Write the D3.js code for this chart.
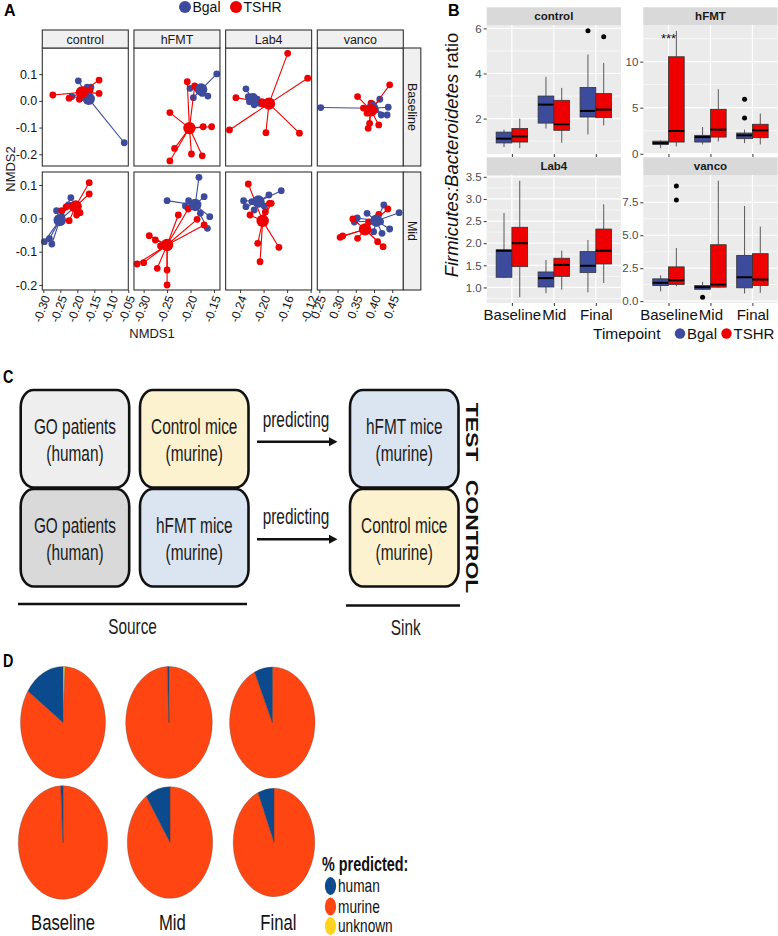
<!DOCTYPE html>
<html><head><meta charset="utf-8">
<script src="https://cdn.jsdelivr.net/npm/d3@7/dist/d3.min.js"></script>
<style>
html,body{margin:0;padding:0;background:#fff;}
svg{display:block;}
text{font-family:"Liberation Sans",Arial,Helvetica,sans-serif;}
</style></head><body>
<svg id="fig" width="778" height="936" viewBox="0 0 778 936"></svg>
<script>
// ================= Panel A data (NMDS) =================
const nmdsTreatments = ["control","hFMT","Lab4","vanco"];
const nmdsTimepoints = ["Baseline","Mid"];
const nmdsGroups = ["Bgal","TSHR"];
const nmdsXTicks = [[-0.30,-0.25,-0.20,-0.15,-0.10,-0.05],[-0.30,-0.25,-0.20,-0.15],[-0.24,-0.20,-0.16,-0.12],[0.25,0.30,0.35,0.40,0.45]];
const nmdsXDomains = [[-0.303,-0.05],[-0.3206,-0.1372],[-0.2645,-0.1183],[0.2445,0.4804]];
const nmdsYTicks = [0.1,0.0,-0.1,-0.2];
const nmdsYDomains = [[-0.244,0.198],[-0.215,0.139]];

const ctrlBaseBgal = [[-0.197,0.075],[-0.171,0.051],[-0.160,0.051],[-0.216,0.016],[-0.192,0.010],[-0.062,-0.157]];
const ctrlBaseTSHR = [[-0.272,0.022],[-0.224,0.010],[-0.194,0.006],[-0.136,0.078],[-0.136,0.028],[-0.163,0.038],[-0.180,0.041]];
const hfmtBaseBgal = [[-0.144,0.101],[-0.201,0.047],[-0.194,0.012],[-0.163,0.018],[-0.175,0.028],[-0.187,0.048]];
const hfmtBaseTSHR = [[-0.207,0.072],[-0.191,0.056],[-0.244,-0.044],[-0.173,-0.097],[-0.155,-0.097],[-0.234,-0.178],[-0.244,-0.225],[-0.198,-0.199],[-0.175,-0.206]];
const lab4BaseBgal = [[-0.230,0.045],[-0.226,0.016],[-0.224,-0.003],[-0.216,-0.015],[-0.207,-0.009],[-0.211,0.006]];
const lab4BaseTSHR = [[-0.159,0.178],[-0.125,0.085],[-0.247,0.012],[-0.258,-0.109],[-0.196,-0.119],[-0.139,-0.121],[-0.203,-0.003],[-0.189,-0.004],[-0.202,-0.012]];
const vancoBaseBgal = [[0.254,-0.025],[0.416,0.006],[0.439,-0.024],[0.420,-0.053],[0.436,-0.053],[0.404,-0.034],[0.396,-0.012]];
const vancoBaseTSHR = [[0.443,0.060],[0.355,0.016],[0.392,-0.009],[0.381,-0.046],[0.388,-0.084],[0.384,-0.103],[0.413,-0.090],[0.399,-0.034],[0.371,-0.027]];
const ctrlMidBgal = [[-0.297,-0.070],[-0.282,-0.061],[-0.275,-0.077],[-0.261,0.023],[-0.219,0.062],[-0.226,0.040],[-0.246,0.005],[-0.207,0.034]];
const ctrlMidTSHR = [[-0.165,0.107],[-0.165,0.073],[-0.192,0.017],[-0.202,0.010],[-0.224,-0.007],[-0.246,0.023],[-0.213,0.031],[-0.233,0.034]];
const hfmtMidBgal = [[-0.182,0.123],[-0.171,0.065],[-0.159,0.005],[-0.164,-0.030],[-0.250,0.053],[-0.204,0.053],[-0.211,0.037],[-0.179,0.015]];
const hfmtMidTSHR = [[-0.314,-0.137],[-0.300,-0.133],[-0.288,-0.052],[-0.275,-0.065],[-0.271,-0.150],[-0.250,-0.155],[-0.250,-0.200],[-0.226,0.010],[-0.205,0.028],[-0.186,-0.003],[-0.171,-0.020],[-0.264,-0.083]];
const lab4MidBgal = [[-0.170,0.083],[-0.234,0.053],[-0.230,0.035],[-0.216,0.025],[-0.209,0.050],[-0.191,0.070],[-0.220,0.050],[-0.199,0.037]];
const lab4MidTSHR = [[-0.226,0.103],[-0.223,0.010],[-0.190,0.045],[-0.210,-0.075],[-0.206,-0.130],[-0.174,-0.087],[-0.201,0.001],[-0.187,0.045],[-0.197,0.019]];
const vancoMidBgal = [[0.469,0.017],[0.427,0.040],[0.381,0.015],[0.346,-0.011],[0.399,-0.040],[0.422,-0.045],[0.443,-0.032],[0.418,-0.010],[0.354,0.001]];
const vancoMidTSHR = [[0.307,-0.057],[0.314,-0.053],[0.355,-0.060],[0.342,-0.002],[0.413,0.012],[0.438,0.028],[0.410,-0.070],[0.425,-0.085],[0.385,-0.011],[0.368,-0.032]];

// ================= Panel B data (boxplots: [lowWhisker, Q1, median, Q3, highWhisker]) =================
const boxFacets = ["control","hFMT","Lab4","vanco"];
const boxTimepoints = ["Baseline","Mid","Final"];
const boxControlBgal = [[0.74,0.92,1.11,1.40,1.51],[1.56,1.80,2.62,3.00,3.85],[1.30,2.07,2.34,3.38,4.84]];
const boxControlTSHR = [[0.69,0.96,1.21,1.56,2.00],[0.93,1.48,1.75,2.81,3.36],[1.70,2.04,2.40,3.11,4.47]];
const boxHfmtBgal = [[0.61,1.01,1.16,1.37,1.45],[1.01,1.27,1.81,2.00,2.90],[1.16,1.64,2.00,2.25,2.62]];
const boxHfmtTSHR = [[0.80,1.27,2.47,10.53,13.34],[1.34,1.81,2.62,4.83,7.01],[1.01,1.74,2.54,3.20,4.36]];
const boxLab4Bgal = [[1.21,1.23,1.83,1.85,2.68],[0.87,1.01,1.21,1.35,1.62],[0.89,1.34,1.49,1.81,2.07]];
const boxLab4TSHR = [[0.78,1.47,2.00,2.36,3.41],[0.95,1.25,1.51,1.66,1.83],[1.10,1.53,1.83,2.32,2.88]];
const boxVancoBgal = [[0.75,1.18,1.39,1.69,1.96],[0.85,0.90,1.06,1.18,1.46],[0.58,1.01,1.81,3.47,7.22]];
const boxVancoTSHR = [[1.13,1.26,1.58,2.60,4.03],[1.01,1.06,1.26,4.28,9.13],[0.63,1.19,1.64,3.60,5.66]];
const outControl = [["Final","Bgal",5.89],["Final","TSHR",5.63]];
const outHfmt = [["Final","Bgal",5.92],["Final","Bgal",3.88]];
const outLab4 = [];
const outVanco = [["Baseline","TSHR",8.73],["Baseline","TSHR",7.67],["Mid","Bgal",0.30]];
const boxYTicks = [[2,4,6],[0,5,10],[1.0,1.5,2.0,2.5,3.0,3.5],[0.0,2.5,5.0,7.5]];
const boxYDecimals = [0,0,1,1];

// ================= Panel C text =================
const cSourceText = [["GO patients","(human)"],["Control mice","(murine)"],["GO patients","(human)"],["hFMT mice","(murine)"]];
const cSinkText = [["hFMT mice","(murine)"],["Control mice","(murine)"]];
const cSideText = ["TEST","CONTROL"];
const cArrowText = ["predicting","predicting"];
const cFooterText = ["Source","Sink"];

// ================= Panel D data (% predicted) =================
const pieStages = ["Baseline","Mid","Final"];
const pieCategories = ["unknown","murine","human"];
const pieRow1Human = [15.5, 0.6, 6.8];
const pieRow1Murine = [83.7, 99.2, 93.1];
const pieRow1Unknown = [0.8, 0.2, 0.1];
const pieRow2Human = [0.8, 9.4, 6.4];
const pieRow2Murine = [99.2, 90.6, 93.6];
const pieRow2Unknown = [0.0, 0.0, 0.0];
const pieLegend = ["human","murine","unknown"];

// =========================================================
const svg = d3.select("#fig");
const BLUE = "#3C4B9B", RED = "#EE0000";
const groupColor = d3.scaleOrdinal().domain(nmdsGroups).range([BLUE, RED]);

function ctext(g, x, y, str, size, opts = {}) {
  const sx = opts.sx || 1;
  const t = g.append("text")
    .attr("transform", `translate(${x},${y}) scale(${sx},1)` + (opts.rot ? ` rotate(${opts.rot})` : ""))
    .attr("text-anchor", opts.anchor || "middle")
    .attr("font-size", size)
    .attr("font-weight", opts.weight || "normal")
    .attr("fill", opts.fill || "#1a1a1a")
    .text(str);
  if (opts.dy) t.attr("dy", opts.dy);
  return t;
}

// ================= PANEL A =================
const nmdsTable = {
  control: { Baseline: { Bgal: ctrlBaseBgal, TSHR: ctrlBaseTSHR }, Mid: { Bgal: ctrlMidBgal, TSHR: ctrlMidTSHR } },
  hFMT: { Baseline: { Bgal: hfmtBaseBgal, TSHR: hfmtBaseTSHR }, Mid: { Bgal: hfmtMidBgal, TSHR: hfmtMidTSHR } },
  Lab4: { Baseline: { Bgal: lab4BaseBgal, TSHR: lab4BaseTSHR }, Mid: { Bgal: lab4MidBgal, TSHR: lab4MidTSHR } },
  vanco: { Baseline: { Bgal: vancoBaseBgal, TSHR: vancoBaseTSHR }, Mid: { Bgal: vancoMidBgal, TSHR: vancoMidTSHR } }
};
const gA = svg.append("g");
const aPW = 86, aPH = 118;
const aX0 = i => 42.3 + i * 91.67;
const aY0 = j => 48 + j * 124;

ctext(gA, 4, 15.5, "A", 16, { anchor: "start", weight: "bold", fill: "#000" });
// top legend
nmdsGroups.forEach((gr, k) => {
  const lx = [185, 236][k];
  gA.append("circle").attr("cx", lx).attr("cy", 7).attr("r", 6).attr("fill", groupColor(gr));
  ctext(gA, lx + 7.5, 12.2, gr, 14, { anchor: "start", fill: "#111" });
});

nmdsTimepoints.forEach((tp, j) => {
  nmdsTreatments.forEach((tr, i) => {
    const x0 = aX0(i), y0 = aY0(j);
    const xs = d3.scaleLinear().domain(nmdsXDomains[i]).range([x0, x0 + aPW]);
    const ys = d3.scaleLinear().domain(nmdsYDomains[j]).range([y0 + aPH, y0]);
    const g = gA.append("g");
    g.append("rect").attr("x", x0).attr("y", y0).attr("width", aPW).attr("height", aPH).attr("fill", "#fff");
    const cents = [];
    nmdsGroups.forEach(gr => {
      const pts = nmdsTable[tr][tp][gr];
      const cx = d3.mean(pts, d => d[0]), cy = d3.mean(pts, d => d[1]);
      cents.push({ gr, cx, cy });
      g.append("g").selectAll("line").data(pts).join("line")
        .attr("x1", d => xs(d[0])).attr("y1", d => ys(d[1]))
        .attr("x2", xs(cx)).attr("y2", ys(cy))
        .attr("stroke", groupColor(gr)).attr("stroke-width", 1.1);
      g.append("g").selectAll("circle").data(pts).join("circle")
        .attr("cx", d => xs(d[0])).attr("cy", d => ys(d[1])).attr("r", 3.4)
        .attr("fill", groupColor(gr));
    });
    g.selectAll(".cent").data(cents).join("circle").attr("class", "cent")
      .attr("cx", d => xs(d.cx)).attr("cy", d => ys(d.cy)).attr("r", 6.2)
      .attr("fill", d => groupColor(d.gr));
    g.append("rect").attr("x", x0).attr("y", y0).attr("width", aPW).attr("height", aPH)
      .attr("fill", "none").attr("stroke", "#333").attr("stroke-width", 1.1);

    if (j === 0) {
      g.append("rect").attr("x", x0).attr("y", 30).attr("width", aPW).attr("height", 18)
        .attr("fill", "#F0F0F0").attr("stroke", "#333").attr("stroke-width", 1.1);
      ctext(g, x0 + aPW / 2, 43.5, tr, 12.5);
    }
    if (i === 0) {
      const ax = g.append("g").attr("transform", `translate(${x0},0)`)
        .call(d3.axisLeft(ys).tickValues(nmdsYTicks).tickSize(3).tickPadding(2).tickFormat(d => d.toFixed(1)));
      ax.select(".domain").remove();
      ax.selectAll("line").attr("stroke", "#333");
      ax.selectAll("text").attr("font-size", 12.5).attr("fill", "#111").attr("font-family", null);
    }
    if (j === 1) {
      const ax = g.append("g").attr("transform", `translate(0,${y0 + aPH})`)
        .call(d3.axisBottom(xs).tickValues(nmdsXTicks[i]).tickSize(3).tickFormat(d => d.toFixed(2)));
      ax.select(".domain").remove();
      ax.selectAll("line").attr("stroke", "#333");
      ax.selectAll("text")
        .attr("font-size", 12).attr("fill", "#111").attr("font-family", null)
        .attr("text-anchor", "end").attr("dy", "0.35em").attr("y", 0)
        .attr("transform", "translate(2.5,6) rotate(-70)");
    }
    if (i === 3) {
      g.append("rect").attr("x", x0 + aPW).attr("y", y0).attr("width", 17.5).attr("height", aPH)
        .attr("fill", "#F0F0F0").attr("stroke", "#333").attr("stroke-width", 1.1);
      ctext(g, x0 + aPW + 8.75, y0 + aPH / 2, tp, 12.5, { rot: 90, dy: "0.35em" });
    }
  });
});
ctext(gA, 152, 338, "NMDS1", 13);
ctext(gA, 10, 169, "NMDS2", 13, { rot: -90, dy: "0.35em" });

// ================= PANEL B =================
const boxTable = {
  control: { Bgal: boxControlBgal, TSHR: boxControlTSHR, out: outControl },
  hFMT: { Bgal: boxHfmtBgal, TSHR: boxHfmtTSHR, out: outHfmt },
  Lab4: { Bgal: boxLab4Bgal, TSHR: boxLab4TSHR, out: outLab4 },
  vanco: { Bgal: boxVancoBgal, TSHR: boxVancoTSHR, out: outVanco }
};
const gB = svg.append("g");
ctext(gB, 448, 15.5, "B", 16, { anchor: "start", weight: "bold", fill: "#000" });
const bX0 = [486.7, 643.3], bW = 134.3, bY0 = [25, 175], bH = [129, 128], stripH = 17.7;

boxFacets.forEach((fac, k) => {
  const col = k % 2, row = Math.floor(k / 2);
  const x0 = bX0[col], y0 = bY0[row], h = bH[row];
  const dat = boxTable[fac];
  const allV = [].concat(...dat.Bgal, ...dat.TSHR, dat.out.map(d => d[2]));
  const ext = d3.extent(allV), pad = (ext[1] - ext[0]) * 0.05;
  const ys = d3.scaleLinear().domain([ext[0] - pad, ext[1] + pad]).range([y0 + h, y0]);
  const xs = d3.scalePoint().domain(boxTimepoints).range([x0, x0 + bW]).padding(0.6);
  const unit = xs.step();
  const bw = unit * 0.375;
  const g = gB.append("g");
  g.append("rect").attr("x", x0).attr("y", y0).attr("width", bW).attr("height", h).attr("fill", "#EBEBEB");
  // gridlines
  const major = boxYTicks[k];
  const step = major[1] - major[0];
  const dom = ys.domain();
  const minor = [];
  for (let v = major[0] - step / 2; v <= dom[1]; v += step) if (v >= dom[0]) minor.push(v);
  g.append("g").selectAll("line").data(minor).join("line")
    .attr("x1", x0).attr("x2", x0 + bW).attr("y1", d => ys(d)).attr("y2", d => ys(d))
    .attr("stroke", "#fff").attr("stroke-width", 0.6);
  g.append("g").selectAll("line").data(major).join("line")
    .attr("x1", x0).attr("x2", x0 + bW).attr("y1", d => ys(d)).attr("y2", d => ys(d))
    .attr("stroke", "#fff").attr("stroke-width", 1.2);
  g.append("g").selectAll("line").data(boxTimepoints).join("line")
    .attr("x1", d => xs(d)).attr("x2", d => xs(d)).attr("y1", y0).attr("y2", y0 + h)
    .attr("stroke", "#fff").attr("stroke-width", 1.2);
  // boxes
  nmdsGroups.forEach((gr, gi) => {
    const off = (gi === 0 ? -0.5 : 0.5) * bw;
    const rows = dat[gr].map((s, ti) => ({ t: boxTimepoints[ti], s }));
    const bg = g.append("g");
    bg.selectAll(".wl").data(rows).join("line").attr("class", "wl")
      .attr("x1", d => xs(d.t) + off).attr("x2", d => xs(d.t) + off)
      .attr("y1", d => ys(d.s[0])).attr("y2", d => ys(d.s[1]))
      .attr("stroke", "#333").attr("stroke-width", 0.8);
    bg.selectAll(".wh").data(rows).join("line").attr("class", "wh")
      .attr("x1", d => xs(d.t) + off).attr("x2", d => xs(d.t) + off)
      .attr("y1", d => ys(d.s[3])).attr("y2", d => ys(d.s[4]))
      .attr("stroke", "#333").attr("stroke-width", 0.8);
    bg.selectAll(".bx").data(rows).join("rect").attr("class", "bx")
      .attr("x", d => xs(d.t) + off - bw / 2).attr("width", bw)
      .attr("y", d => ys(d.s[3])).attr("height", d => ys(d.s[1]) - ys(d.s[3]))
      .attr("fill", groupColor(gr)).attr("stroke", "#333").attr("stroke-width", 0.8);
    bg.selectAll(".md").data(rows).join("line").attr("class", "md")
      .attr("x1", d => xs(d.t) + off - bw / 2).attr("x2", d => xs(d.t) + off + bw / 2)
      .attr("y1", d => ys(d.s[2])).attr("y2", d => ys(d.s[2]))
      .attr("stroke", "#000").attr("stroke-width", 2);
  });
  g.append("g").selectAll("circle").data(dat.out).join("circle")
    .attr("cx", d => xs(d[0]) + (d[1] === "Bgal" ? -0.5 : 0.5) * bw)
    .attr("cy", d => ys(d[2])).attr("r", 2.5).attr("fill", "#000");
  // strip
  g.append("rect").attr("x", x0).attr("y", y0 - stripH).attr("width", bW).attr("height", stripH).attr("fill", "#D9D9D9");
  ctext(g, x0 + bW / 2, y0 - stripH / 2 + 4, fac, 11.5, { weight: "bold" });
  // y axis
  const ay = g.append("g").attr("transform", `translate(${x0},0)`)
    .call(d3.axisLeft(ys).tickValues(major).tickSize(3).tickPadding(2).tickFormat(d => d.toFixed(boxYDecimals[k])));
  ay.select(".domain").remove();
  ay.selectAll("line").attr("stroke", "#333");
  ay.selectAll("text").attr("font-size", 11.5).attr("fill", "#4D4D4D").attr("font-family", null);
  // x axis
  const axx = g.append("g").attr("transform", `translate(0,${y0 + h})`)
    .call(d3.axisBottom(xs).tickSize(3).tickPadding(3));
  axx.select(".domain").remove();
  axx.selectAll("line").attr("stroke", "#333");
  if (row === 1) axx.selectAll("text").attr("font-size", 15).attr("fill", "#111").attr("font-family", null);
  else axx.selectAll("text").remove();
  if (fac === "hFMT") {
    ctext(g, xs("Baseline"), 43, "***", 13, { fill: "#111" });
  }
});
// y title
const yt = gB.append("text").attr("transform", "translate(458,155) rotate(-90)")
  .attr("text-anchor", "middle").attr("font-size", 18.5).attr("fill", "#111");
yt.append("tspan").attr("font-style", "italic").text("Firmicutes:Bacteroidetes");
yt.append("tspan").text(" ratio");
// legend
ctext(gB, 593, 338.5, "Timepoint", 15.5, { anchor: "start", fill: "#111" });
nmdsGroups.forEach((gr, k) => {
  const lx = [680, 726.5][k];
  gB.append("circle").attr("cx", lx).attr("cy", 333.5).attr("r", 5.2).attr("fill", groupColor(gr));
  ctext(gB, lx + 7, 338.5, gr, 15, { anchor: "start", fill: "#111" });
});

// ================= PANEL C =================
const gC = svg.append("g");
const SX = 0.70;
ctext(gC, 3, 383, "C", 18, { anchor: "start", weight: "bold", sx: 0.8, fill: "#000" });
const cColX = [20.7, 140, 350], cBW = 108.5, cRowY = [390, 489], cBH = 97.5;
const srcFill = ["#EEEEEE", "#FDF2CF", "#D9D9D9", "#DBE4F1"];
const sinkFill = ["#DBE4F1", "#FDF2CF"];
function drawBox(x, y, fill, lines) {
  gC.append("rect").attr("x", x).attr("y", y).attr("width", cBW).attr("height", cBH)
    .attr("rx", 13).attr("ry", 17).attr("fill", fill).attr("stroke", "#111").attr("stroke-width", 2.6);
  ctext(gC, x + cBW / 2, y + 44, lines[0], 22, { sx: SX, fill: "#1a1a1a" });
  ctext(gC, x + cBW / 2, y + 71, lines[1], 22, { sx: SX, fill: "#1a1a1a" });
}
cSourceText.forEach((ln, k) => drawBox(cColX[k % 2], cRowY[Math.floor(k / 2)], srcFill[k], ln));
cSinkText.forEach((ln, k) => drawBox(cColX[2], cRowY[k], sinkFill[k], ln));
cArrowText.forEach((t, k) => {
  const ay = [441.7, 539.3][k];
  ctext(gC, 296, ay - 15, t, 22, { sx: SX, fill: "#1a1a1a" });
  gC.append("line").attr("x1", 257).attr("x2", 331).attr("y1", ay).attr("y2", ay)
    .attr("stroke", "#111").attr("stroke-width", 2.6);
  gC.append("path").attr("d", `M329,${ay - 4.5}L337.5,${ay}L329,${ay + 4.5}Z`).attr("fill", "#111");
});
cSideText.forEach((t, k) => {
  const cy = [432, 536.5][k];
  ctext(gC, 471.5, cy, t, 23, { sx: 0.72, rot: 90, weight: "bold", dy: "0.35em", fill: "#111" });
});
gC.append("line").attr("x1", 18).attr("x2", 247).attr("y1", 604).attr("y2", 604).attr("stroke", "#111").attr("stroke-width", 2.6);
gC.append("line").attr("x1", 346).attr("x2", 460).attr("y1", 605.5).attr("y2", 605.5).attr("stroke", "#111").attr("stroke-width", 2.6);
ctext(gC, 132.5, 634, cFooterText[0], 22, { sx: SX, fill: "#1a1a1a" });
ctext(gC, 405.7, 635, cFooterText[1], 22, { sx: SX, fill: "#1a1a1a" });

// ================= PANEL D =================
const gD = svg.append("g");
ctext(gD, 3, 667, "D", 18, { anchor: "start", weight: "bold", sx: 0.8, fill: "#000" });
const pieColor = d3.scaleOrdinal().domain(["human", "murine", "unknown"]).range(["#0B4A8C", "#FF4512", "#FFD320"]);
const pieRows = [
  pieStages.map((s, i) => [pieRow1Unknown[i], pieRow1Murine[i], pieRow1Human[i]]),
  pieStages.map((s, i) => [pieRow2Unknown[i], pieRow2Murine[i], pieRow2Human[i]])
];
const pieCX = [[63, 169, 272.3], [63, 170, 274]];
const pieCY = [722.5, 842.5];
const pieRX = [[42.5, 43.3, 42.7], [44.7, 42.7, 40.8]];
const pieRY = [[56, 56, 55.5], [56.7, 55.8, 54.2]];
const pieGen = d3.pie().sort(null).value(d => d.v);
pieRows.forEach((row, r) => {
  row.forEach((vals, i) => {
    const ry = pieRY[r][i], rx = pieRX[r][i];
    const arc = d3.arc().innerRadius(0).outerRadius(ry);
    const g = gD.append("g").attr("transform", `translate(${pieCX[r][i]},${pieCY[r]}) scale(${rx / ry},1)`);
    const data = pieCategories.map((c, k) => ({ c, v: vals[k] }));
    g.selectAll("path").data(pieGen(data)).join("path")
      .attr("d", arc).attr("fill", d => pieColor(d.data.c))
      .attr("stroke", "#444").attr("stroke-width", d => d.data.v > 0 ? 0.35 : 0);
  });
});
pieStages.forEach((s, i) => {
  ctext(gD, [63, 172.3, 278.3][i], 930, s, 22.5, { sx: 0.74, fill: "#111" });
});
ctext(gD, 322, 870.7, "% predicted:", 20, { anchor: "start", weight: "bold", sx: 0.72, fill: "#111" });
pieLegend.forEach((c, k) => {
  const ly = [886, 906.5, 926][k];
  gD.append("ellipse").attr("cx", 330.5).attr("cy", ly).attr("rx", 5.6).attr("ry", 9).attr("fill", pieColor(c));
  ctext(gD, 338, ly + 6, c, 18, { anchor: "start", sx: 0.76, fill: "#111" });
});
</script>
</body></html>
